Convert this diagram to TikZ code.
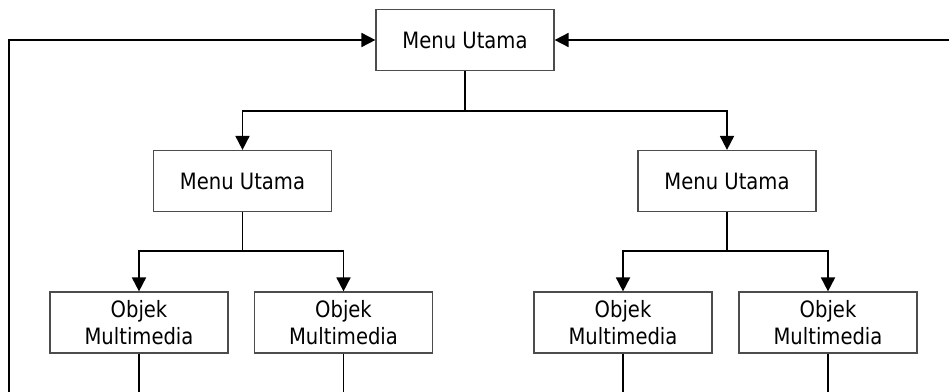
\documentclass[tikz,border=0pt]{standalone}
\usepackage{fontspec}
\setmainfont{DejaVu Sans}[FakeStretch=0.87]
\usetikzlibrary{arrows.meta}

\tikzset{
  menu/.style={draw=black!70, line width=1.2pt, fill=white, minimum width=178pt,
    minimum height=61pt, inner sep=0pt, align=center,
    font=\fontsize{22.5}{27}\selectfont},
  link/.style={line width=1.8pt},
  leaf/.style={line width=1.3pt},
  arrowto/.style={-{Triangle[length=14pt,width=14pt]}}
}

\begin{document}
\begin{tikzpicture}[x=1pt,y=-1pt]

\clip (0,0) rectangle (949,391);

% Boxes
\node[menu] (top) at (465,40) {Menu Utama};          % top menu
\node[menu] (left) at (242.5,181) {Menu Utama};      % left menu
\node[menu] (right) at (727,181) {Menu Utama};       % right menu
\node[menu] (objLL) at (139,322.5) {Objek\\Multimedia};
\node[menu] (objLR) at (343.5,322.5) {Objek\\Multimedia};
\node[menu] (objRL) at (623,322.5) {Objek\\Multimedia};
\node[menu] (objRR) at (828,322.5) {Objek\\Multimedia};

% Split points
\coordinate (splitT) at (465,111);     % below top menu
\coordinate (splitL) at (242.5,251);   % below left menu
\coordinate (splitR) at (727,251);     % below right menu

% Loose ends (outside the frame)
\coordinate (endLL) at (139,400);
\coordinate (endLR) at (343.5,400);
\coordinate (endRL) at (623,400);
\coordinate (endRR) at (828,400);
\coordinate (backL) at (9,400);        % return line, left
\coordinate (backR) at (960,40);       % return line, right

% Top menu to sub menus
\draw[link,arrowto] (top.south) -- (splitT) -| (left.north);
\draw[link,arrowto] (splitT) -| (right.north);

% Sub menus to objects
\draw[link,arrowto] (left.south) -- (splitL) -| (objLL.north);
\draw[link,arrowto] (splitL) -| (objLR.north);
\draw[link,arrowto] (right.south) -- (splitR) -| (objRL.north);
\draw[link,arrowto] (splitR) -| (objRR.north);

% Objects going on
\draw[leaf] (objLL.south) -- (endLL);
\draw[leaf] (objLR.south) -- (endLR);
\draw[leaf] (objRL.south) -- (endRL);
\draw[leaf] (objRR.south) -- (endRR);

% Back to top menu
\draw[link,arrowto] (backL) |- (top.west);
\draw[link,arrowto] (backR) -- (top.east);

\end{tikzpicture}
\end{document}
